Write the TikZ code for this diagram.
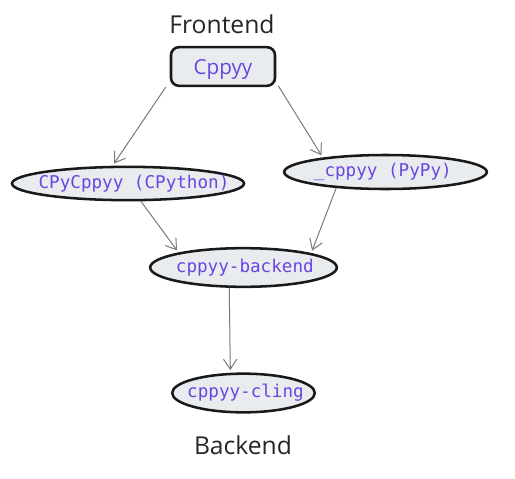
\documentclass[tikz,border=0pt]{standalone}
\usepackage{fontspec}
\setmainfont{Open Sans}
\newfontfamily\codefont{DejaVu Sans Mono}
\newfontfamily\cppfont{Open Sans}
\usetikzlibrary{shapes.geometric,arrows.meta}
\definecolor{nodefill}{HTML}{E9ECEF}
\definecolor{codepurple}{HTML}{6A45E0}
\definecolor{arrowgray}{HTML}{7A7A7A}
\tikzset{
  ellnode/.style={ellipse, draw=black!90, line width=1.9pt, fill=nodefill, inner sep=0pt},
  ellabel/.style={text=codepurple, font=\codefont\fontsize{13.2pt}{15pt}\selectfont, inner sep=0pt},
  boxnode/.style={rectangle, rounded corners=6pt, draw=black!90, line width=1.9pt, fill=nodefill,
    inner sep=0pt, text=codepurple, font=\cppfont\fontsize{15.5pt}{17pt}\selectfont},
  title/.style={font=\fontsize{18.5pt}{21pt}\selectfont, text=black!85},
  conn/.style={draw=arrowgray, line width=0.75pt, -{Straight Barb[length=7.5pt,width=10pt]}, shorten >=2pt}
}
\begin{document}
\begin{tikzpicture}[x=0.75pt,y=-0.75pt]
\useasboundingbox (0,0) rectangle (515,479);
\node[title] (front) at (222,24) {Frontend};
\node[boxnode, minimum width=78pt, minimum height=29pt, text depth=0pt] (cppyy) at (223,66.5) {\raisebox{-1.5pt}{Cppyy}};
\node[ellnode, minimum width=174pt, minimum height=25pt, label={[ellabel,xshift=4.5pt]center:CPyCppyy (CPython)}] (cpy) at (128,183.5) {};
\node[ellnode, minimum width=152pt, minimum height=25.5pt, label={[ellabel,xshift=-2pt]center:\_cppyy (PyPy)}] (pypy) at (385.5,172) {};
\node[ellnode, minimum width=140pt, minimum height=29pt, label={[ellabel,xshift=1pt]center:cppyy-backend}] (backend) at (243.5,267.5) {};
\node[ellnode, minimum width=107pt, minimum height=29pt, label={[ellabel,xshift=1.5pt]center:cppyy-cling}] (cling) at (243.5,393) {};
\node[title] (back) at (243,445) {Backend};
\draw[conn] ([xshift=-3pt]cppyy.south west) -- (cpy.131);
\draw[conn] ([xshift=1.5pt,yshift=1pt]cppyy.south east) -- (pypy.167);
\draw[conn] (cpy.-54) -- (backend.167);
\draw[conn] (pypy.198) -- (backend.12);
\draw[conn] (backend.235) -- (cling.123);
\end{tikzpicture}
\end{document}
